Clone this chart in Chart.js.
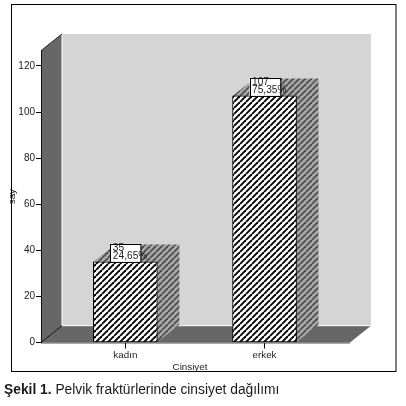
<!DOCTYPE html>
<html>
<head>
<meta charset="utf-8">
<script src="https://cdn.jsdelivr.net/npm/chart.js@4"></script>
<style>
html,body{margin:0;padding:0;background:#fff;width:406px;height:406px;overflow:hidden}
#wrap{position:relative;width:406px;height:406px}
canvas{display:block}
#caption{position:absolute;left:4px;top:382px;font:13.8px "Liberation Sans",Arial,sans-serif;color:#1a1a1a;white-space:nowrap}
</style>
</head>
<body>
<div id="wrap">
<canvas id="c" width="406" height="406"></canvas>
<div id="caption"><b>Şekil 1.</b> Pelvik fraktürlerinde cinsiyet dağılımı</div>
</div>
<script>
const categories = ['kadın', 'erkek'];
const counts = [35, 107];
const percents = ['24,65%', '75,35%'];
const yTicks = [0, 20, 40, 60, 80, 100, 120];

const FONT = '"Liberation Sans", Arial, sans-serif';
const DX = 21, DY = 16.8, BAR_DX = 22, BAR_DY = 17.3;

function tile(size, paint) {
  const t = document.createElement('canvas');
  t.width = t.height = size;
  paint(t.getContext('2d'), size);
  return document.createElement('canvas').getContext('2d').createPattern(t, 'repeat');
}
function stripes(bg, fg, lw) {
  return tile(6, (g, s) => {
    g.fillStyle = bg; g.fillRect(0, 0, s, s);
    g.strokeStyle = fg; g.lineWidth = lw;
    for (let i = -s; i <= s * 2; i += s) {
      g.beginPath(); g.moveTo(i, s); g.lineTo(i + s, 0); g.stroke();
    }
  });
}
function dots(a, b) {
  return tile(2, (g, s) => {
    g.fillStyle = a; g.fillRect(0, 0, s, s);
    g.fillStyle = b; g.fillRect(0, 0, 1, 1); g.fillRect(1, 1, 1, 1);
  });
}
const barFill = stripes('#ffffff', '#000000', 1.9);
const shadeFill = stripes('#a8a8a8', '#4e4e4e', 1.8);
const backFill = dots('#d2d2d2', '#d7d7d7');
const wallFill = dots('#626262', '#6c6c6c');

function poly(ctx, pts, fill) {
  ctx.beginPath();
  pts.forEach((p, i) => i ? ctx.lineTo(p[0], p[1]) : ctx.moveTo(p[0], p[1]));
  ctx.closePath();
  ctx.fillStyle = fill;
  ctx.fill();
}
function seg(ctx, a, b, color, w) {
  ctx.beginPath(); ctx.moveTo(a[0], a[1]); ctx.lineTo(b[0], b[1]);
  ctx.strokeStyle = color; ctx.lineWidth = w; ctx.stroke();
}

const scene = {
  id: 'scene',
  beforeDraw(chart) {
    const { ctx, chartArea: a } = chart;
    const floorR = a.right + 11;
    const backL = a.left + DX, backR = floorR + DX, backT = a.top - DY, backB = a.bottom - DY;
    ctx.save();
    poly(ctx, [[backL, backT], [backR, backT], [backR, backB], [backL, backB]], backFill);
    poly(ctx, [[a.left, a.top], [backL, backT], [backL, backB], [a.left, a.bottom]], wallFill);
    poly(ctx, [[a.left, a.bottom], [backL, backB], [backR, backB], [floorR, a.bottom]], wallFill);
    seg(ctx, [backL, backT], [backL, backB], '#ffffff', 1);
    seg(ctx, [backL, backB], [backR, backB], '#ffffff', 1);
    seg(ctx, [a.left, a.bottom], [backL, backB], '#111111', 1);
    seg(ctx, [a.left, a.top], [backL, backT], '#222222', 1);
    seg(ctx, [a.left, a.bottom + 0.5], [floorR, a.bottom + 0.5], '#555555', 1);
    ctx.restore();
  },
  beforeDatasetsDraw(chart) {
    const { ctx } = chart;
    ctx.save();
    chart.getDatasetMeta(0).data.forEach(bar => {
      const l = bar.x - bar.width / 2, r = bar.x + bar.width / 2, t = bar.y, b = bar.base;
      poly(ctx, [[l, t], [l + BAR_DX, t - BAR_DY], [r + BAR_DX, t - BAR_DY], [r, t]], shadeFill);
      poly(ctx, [[r, t], [r + BAR_DX, t - BAR_DY], [r + BAR_DX, b - BAR_DY], [r, b]], shadeFill);
    });
    ctx.restore();
  },
  afterDatasetsDraw(chart) {
    const { ctx } = chart;
    ctx.save();
    chart.getDatasetMeta(0).data.forEach((bar, i) => {
      const l = bar.x - 15, w = 30.4, h = 18, t = bar.y - h;
      ctx.fillStyle = '#fff';
      ctx.fillRect(l, t, w, h);
      ctx.strokeStyle = '#000'; ctx.lineWidth = 1;
      ctx.strokeRect(Math.round(l) + 0.5, Math.round(t) + 0.5, w, h);
      ctx.fillStyle = '#222';
      ctx.font = '10.2px ' + FONT;
      ctx.textAlign = 'left'; ctx.textBaseline = 'alphabetic';
      ctx.fillText(String(counts[i]), l + 2.5, t + 7.6);
      ctx.fillText(percents[i], l + 2.5, t + 15.6);
    });
    ctx.restore();
  },
  afterDraw(chart) {
    const { ctx } = chart;
    ctx.save();
    ctx.strokeStyle = '#000'; ctx.lineWidth = 1;
    ctx.strokeRect(11.5, 4.5, 384.5, 367);
    ctx.restore();
  }
};

new Chart(document.getElementById('c'), {
  type: 'bar',
  data: {
    datasets: [{
      data: categories.map((c, i) => ({ x: i + 1, y: counts[i] })),
      backgroundColor: barFill,
      borderColor: '#000',
      borderWidth: 1,
      borderSkipped: false,
      barThickness: 64
    }]
  },
  plugins: [scene],
  options: {
    responsive: false,
    animation: false,
    events: [],
    layout: { padding: { left: 0, right: 67, top: 50.7, bottom: 33.3 } },
    plugins: { legend: { display: false }, tooltip: { enabled: false }, title: { display: false } },
    scales: {
      x: {
        type: 'linear',
        offset: false,
        min: 0.394,
        max: 2.535,
        afterBuildTicks(s) { s.ticks = categories.map((c, i) => ({ value: i + 1 })); },
        afterFit(s) { s.height = 30.2; },
        grid: { display: true, offset: false, drawOnChartArea: false, drawTicks: true, tickLength: 6, color: '#000', tickColor: '#000' },
        border: { display: false },
        ticks: {
          includeBounds: false, stepSize: 1, maxRotation: 0, padding: 1,
          color: '#222', font: { family: FONT, size: 9.8 },
          callback: v => categories[v - 1] || ''
        },
        title: { display: true, text: 'Cinsiyet', color: '#222', padding: 0, font: { family: FONT, size: 9.8 } }
      },
      y: {
        min: 0,
        max: 126.6,
        afterBuildTicks(s) { s.ticks = yTicks.map(v => ({ value: v })); },
        afterFit(s) { s.width = 41; },
        grid: { display: true, drawOnChartArea: false, drawTicks: true, tickLength: 5, color: '#000', tickColor: '#000' },
        border: { display: true, color: '#111', width: 1 },
        ticks: { includeBounds: false, padding: 1, color: '#222', font: { family: FONT, size: 10 } },
        title: { display: true, text: 'say', color: '#222', padding: { top: 6, bottom: 0 }, font: { family: FONT, size: 9.8 } }
      }
    }
  }
});
</script>
</body>
</html>
